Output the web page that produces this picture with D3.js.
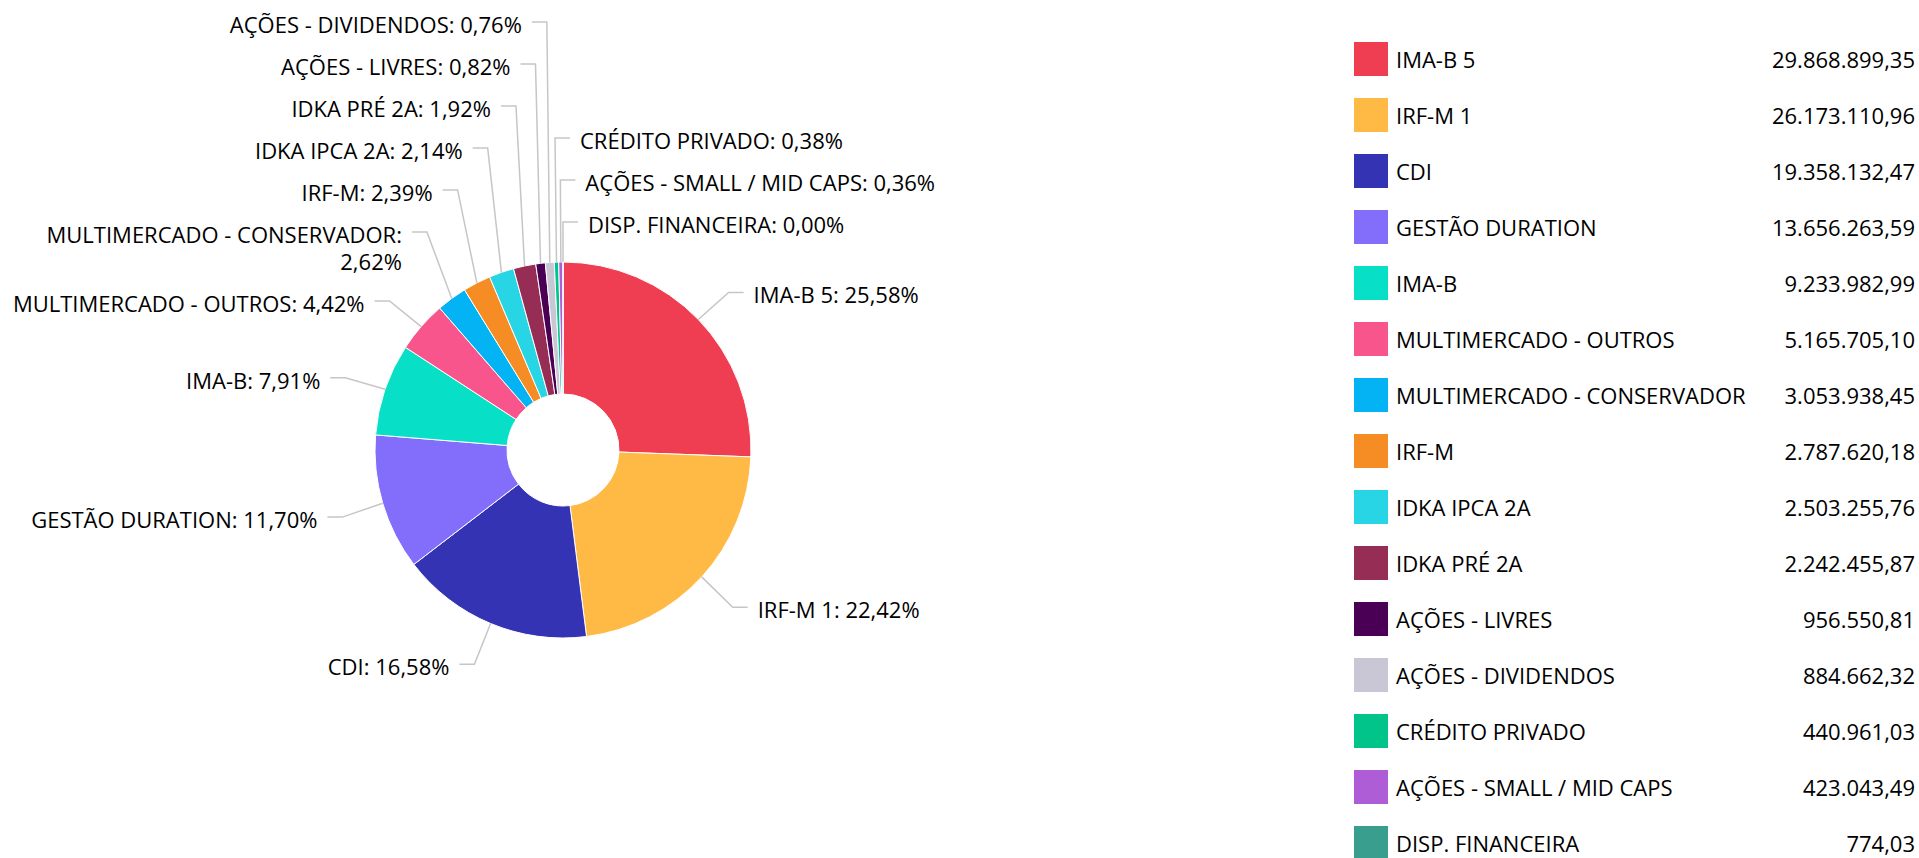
<!DOCTYPE html>
<html>
<head>
<meta charset="utf-8">
<script src="https://cdn.jsdelivr.net/npm/d3@7"></script>
<style>
  body { margin: 0; background: #fff; overflow: hidden; }
  text { font-family: "Open Sans", sans-serif; fill: #000; }
</style>
</head>
<body>
<div id="chart"></div>
<script>
const categories = [
  "IMA-B 5", "IRF-M 1", "CDI", "GESTÃO DURATION", "IMA-B",
  "MULTIMERCADO - OUTROS", "MULTIMERCADO - CONSERVADOR", "IRF-M",
  "IDKA IPCA 2A", "IDKA PRÉ 2A", "AÇÕES - LIVRES", "AÇÕES - DIVIDENDOS",
  "CRÉDITO PRIVADO", "AÇÕES - SMALL / MID CAPS", "DISP. FINANCEIRA"
];
const values = [
  29868899.35, 26173110.96, 19358132.47, 13656263.59, 9233982.99,
  5165705.10, 3053938.45, 2787620.18, 2503255.76, 2242455.87,
  956550.81, 884662.32, 440961.03, 423043.49, 774.03
];
const colors = [
  "#ef3d52", "#ffba45", "#3333b3", "#836efc", "#07e0c6",
  "#f7558b", "#03b3f3", "#f68c24", "#27d5e4", "#962d55",
  "#4a0055", "#c9c7d6", "#00c48a", "#ae5dd6", "#3a9e8e"
];

const width = 1919, height = 858;
const cx = 563, cy = 450, radius = 188, innerRadius = 56;
const lineH = 27;

const br = d3.formatLocale({ decimal: ",", thousands: ".", grouping: [3], currency: ["R$", ""] });
const fmtValue = br.format(",.2f");
const fmtPct = br.format(".2f");

const total = d3.sum(values);
const data = categories.map((name, i) => ({ name, value: values[i], color: colors[i] }));

const svg = d3.select("#chart").append("svg")
  .attr("width", width)
  .attr("height", height);

// Pie slices, starting at 12 o'clock, clockwise
const pie = d3.pie().value((d) => d.value).sort(null);
const arcs = pie(data);
const arc = d3.arc().innerRadius(innerRadius).outerRadius(radius);

const chart = svg.append("g").attr("transform", `translate(${cx},${cy})`);

chart.selectAll("path.slice")
  .data(arcs)
  .join("path")
  .attr("class", "slice")
  .attr("d", arc)
  .attr("fill", (d) => d.data.color)
  .attr("stroke", "#fff")
  .attr("stroke-width", 1);

// Labels
const bendR = radius + 42, tickLen = 15, textGap = 10, gap = 15;
const labelLayer = chart.append("g").style("font-size", "22px");

const labels = arcs.map((a) => {
  let mid = (a.startAngle + a.endAngle) / 2;
  if (mid > Math.PI) mid -= 2 * Math.PI;
  const bx = Math.sin(mid) * bendR;
  const side = bx >= -12 ? 1 : -1;
  return {
    a, mid, bx, side,
    ny: -Math.cos(mid) * bendR,
    text: `${a.data.name}: ${fmtPct((a.value / total) * 100)}%`,
  };
});

// wrap text that doesn't fit on its side
labels.forEach((l) => {
  const avail = l.side < 0 ? cx + l.bx - tickLen - textGap : 1300 - (cx + l.bx + tickLen + textGap);
  const probe = labelLayer.append("text");
  const words = l.text.split(" ");
  const lines = [];
  let cur = [];
  words.forEach((w) => {
    const test = cur.concat([w]).join(" ");
    probe.text(test);
    if (probe.node().getComputedTextLength() > avail && cur.length) {
      lines.push(cur.join(" "));
      cur = [w];
    } else {
      cur.push(w);
    }
  });
  lines.push(cur.join(" "));
  probe.remove();
  l.lines = lines;
});

// push labels up so they don't overlap
[1, -1].forEach((s) => {
  const list = labels
    .filter((l) => l.side === s)
    .sort((p, q) => (s === 1 ? q.mid - p.mid : p.mid - q.mid));
  let top = Infinity;
  list.forEach((l) => {
    const h = l.lines.length * lineH;
    l.y = Math.min(l.ny, top - gap + lineH / 2 - h);
    top = l.y - lineH / 2;
  });
});

labelLayer.selectAll("polyline")
  .data(labels)
  .join("polyline")
  .attr("fill", "none")
  .attr("stroke", "#c6c6c6")
  .attr("stroke-width", 1.5)
  .attr("points", (l) => [
    [Math.sin(l.mid) * radius, -Math.cos(l.mid) * radius],
    [l.bx, l.y + 2],
    [l.bx + l.side * tickLen, l.y + 2],
  ].map((p) => p.join(",")).join(" "));

const labelText = labelLayer.selectAll("text.lbl")
  .data(labels)
  .join("text")
  .attr("class", "lbl")
  .attr("text-anchor", (l) => (l.side > 0 ? "start" : "end"));

labelText.each(function (l) {
  const tx = l.bx + l.side * (tickLen + textGap);
  d3.select(this).selectAll("tspan")
    .data(l.lines)
    .join("tspan")
    .attr("x", tx)
    .attr("y", (d, k) => l.y + 5 + k * lineH)
    .attr("dy", "0.36em")
    .text((d) => d);
});

// Legend
const legendX = 1354, sw = 34, valueX = 1915;
const rowScale = d3.scaleBand()
  .domain(categories)
  .range([42, 42 + categories.length * 56])
  .paddingInner(0);

const rows = svg.append("g")
  .style("font-size", "22px")
  .selectAll("g")
  .data(data)
  .join("g")
  .attr("transform", (d) => `translate(${legendX},${rowScale(d.name)})`);

rows.append("rect")
  .attr("width", sw)
  .attr("height", sw)
  .attr("fill", (d) => d.color);

rows.append("text")
  .attr("x", 42)
  .attr("y", sw / 2 + 1)
  .attr("dy", "0.36em")
  .text((d) => d.name);

rows.append("text")
  .attr("x", valueX - legendX)
  .attr("y", sw / 2 + 1)
  .attr("dy", "0.36em")
  .attr("text-anchor", "end")
  .text((d) => fmtValue(d.value));
</script>
</body>
</html>
